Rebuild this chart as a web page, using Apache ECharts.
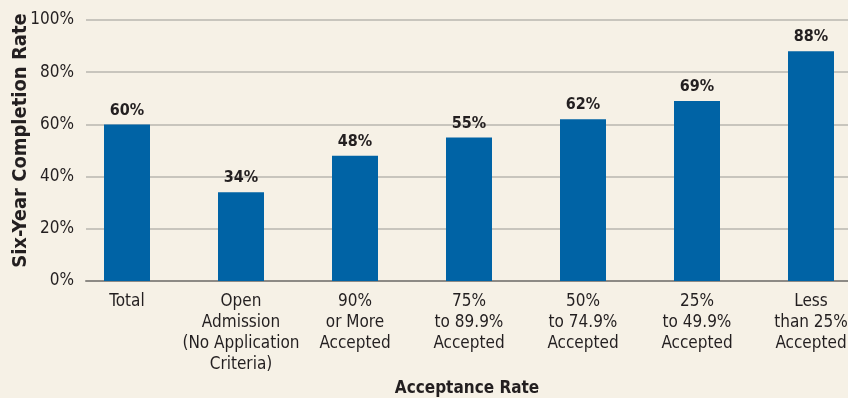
<!DOCTYPE html>
<html>
<head>
<meta charset="utf-8">
<script src="https://cdn.jsdelivr.net/npm/echarts@6/dist/echarts.min.js"></script>
<style>
  html, body { margin: 0; padding: 0; background: #f6f1e6; }
  #chart { width: 848px; height: 398px; }
</style>
</head>
<body>
<div id="chart"></div>
<script>
// Six-year completion rate by institutional acceptance rate
const categories = [
  'Total',
  'Open\nAdmission\n(No Application\nCriteria)',
  '90%\nor More\nAccepted',
  '75%\nto 89.9%\nAccepted',
  '50%\nto 74.9%\nAccepted',
  '25%\nto 49.9%\nAccepted',
  'Less\nthan 25%\nAccepted'
];
const completionRate = [60, 34, 48, 55, 62, 69, 88];
const yTicks = [0, 20, 40, 60, 80, 100];

const FONT = '"Liberation Sans Narrow", "Arial Narrow", "DejaVu Sans Condensed", sans-serif';
const TEXT = '#231f20';
const GRID_LINE = '#b9b6af';

const chart = echarts.init(document.getElementById('chart'), null, { renderer: 'canvas' });

chart.setOption({
  backgroundColor: '#f6f1e6',
  textStyle: { fontFamily: FONT, color: TEXT },
  grid: [
    // frame grid: horizontal rules, y labels, baseline
    { left: 86, right: 0, top: 20, bottom: 117, outerBoundsMode: 'none', containLabel: false },
    // bar grid: category bands for the columns
    { left: 70, right: -20, top: 20, bottom: 117, outerBoundsMode: 'none', containLabel: false }
  ],
  xAxis: [
    {
      gridIndex: 0,
      type: 'value',
      min: 0, max: 1,
      axisLabel: { show: false },
      axisTick: { show: false },
      splitLine: { show: false },
      axisLine: { show: true, onZero: false, lineStyle: { color: '#8d8a85', width: 2 } },
      name: 'Acceptance Rate',
      nameLocation: 'middle',
      nameGap: 99,
      nameTextStyle: { fontFamily: FONT, fontSize: 17, fontWeight: 'bold', color: TEXT }
    },
    {
      gridIndex: 1,
      type: 'category',
      data: categories,
      axisLine: { show: false },
      axisTick: { show: false },
      axisLabel: {
        interval: 0,
        margin: 10,
        fontFamily: FONT,
        fontSize: 17,
        lineHeight: 21,
        color: TEXT
      }
    }
  ],
  yAxis: [
    {
      gridIndex: 0,
      type: 'value',
      min: yTicks[0],
      max: yTicks[yTicks.length - 1],
      interval: 20,
      axisLine: { show: false },
      axisTick: { show: false },
      axisLabel: {
        margin: 12,
        fontFamily: FONT,
        fontSize: 17,
        color: TEXT,
        formatter: v => v + '%'
      },
      splitLine: { lineStyle: { color: GRID_LINE, width: 1.5 } },
      name: 'Six-Year Completion Rate',
      nameLocation: 'middle',
      nameGap: 55,
      nameMoveOverlap: false,
      nameRotate: 90,
      nameTextStyle: {
        fontFamily: FONT, fontSize: 20, fontWeight: 'bold', color: TEXT,
        padding: [0, 0, 0, 20]
      }
    },
    {
      gridIndex: 1,
      type: 'value',
      min: yTicks[0],
      max: yTicks[yTicks.length - 1],
      show: false,
      splitLine: { show: false }
    }
  ],
  series: [
    {
      type: 'bar',
      xAxisIndex: 1,
      yAxisIndex: 1,
      data: completionRate,
      barWidth: 46,
      itemStyle: { color: '#0063a5' },
      z: 3,
      label: {
        show: true,
        position: 'top',
        distance: 6,
        fontFamily: FONT,
        fontSize: 16,
        fontWeight: 'bold',
        color: TEXT,
        formatter: p => p.value + '%'
      }
    }
  ]
});
</script>
</body>
</html>
